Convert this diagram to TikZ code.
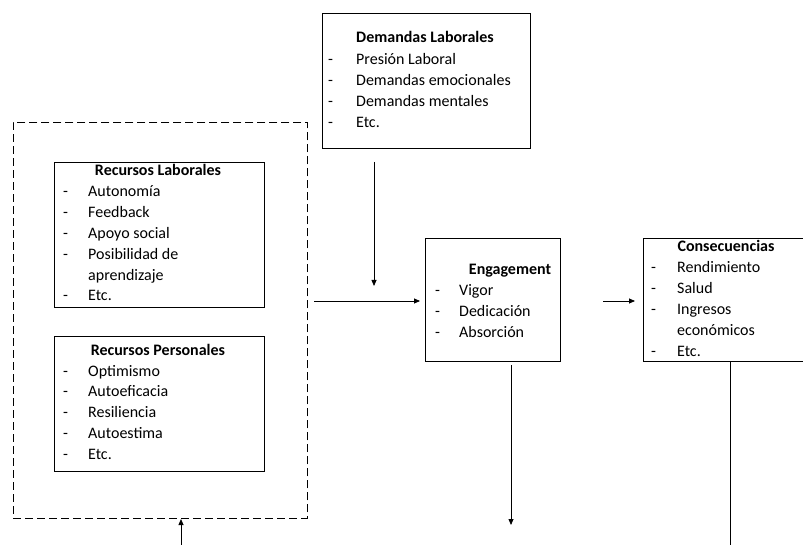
\documentclass[tikz,border=0pt]{standalone}
\usepackage{fontspec}
\setmainfont{Carlito}
\usetikzlibrary{arrows.meta}
\begin{document}
\begin{tikzpicture}[x=1pt,y=-1pt,
  box/.style={draw, line width=0.8pt, rectangle, inner sep=0, anchor=north west},
  dbox/.style={draw, line width=0.8pt, rectangle, inner sep=0, anchor=north west, dash pattern=on 8pt off 4pt},
  ttl/.style={anchor=base, inner sep=0, font=\fontsize{16}{20.8}\selectfont\bfseries},
  lst/.style={anchor=base west, inner sep=0, font=\fontsize{16}{20.8}\selectfont},
  arr/.style={line width=0.8pt, -{Triangle[length=6pt,width=5pt]}},
  ln/.style={line width=0.8pt}]
\useasboundingbox (0,0) rectangle (803,545);
% dashed container
\node[dbox, minimum width=294pt, minimum height=396pt] (res) at (13,122) {};
% Recursos Laborales
\node[box, minimum width=210pt, minimum height=145pt] (rl) at (54,162) {};
\node[ttl] (rlt) at (158,176) {Recursos Laborales};
\node[lst] (rll) at (63,197) {\begin{tabular}[t]{@{}p{25pt}@{}l@{}}
- & Autonomía\\ - & Feedback\\ - & Apoyo social\\ - & Posibilidad de\\ & aprendizaje\\ - & Etc.\end{tabular}};
% Recursos Personales
\node[box, minimum width=210pt, minimum height=135pt] (rp) at (54,336) {};
\node[ttl] (rpt) at (158,355) {Recursos Personales};
\node[lst] (rpl) at (63,376) {\begin{tabular}[t]{@{}p{25pt}@{}l@{}}
- & Optimismo\\ - & Autoeficacia\\ - & Resiliencia\\ - & Autoestima\\ - & Etc.\end{tabular}};
% Demandas Laborales
\node[box, minimum width=208pt, minimum height=135pt] (dl) at (322,13) {};
\node[ttl] (dlt) at (425,43) {Demandas Laborales};
\node[lst] (dll) at (328,65) {\begin{tabular}[t]{@{}p{28pt}@{}l@{}}
- & Presión Laboral\\ - & Demandas emocionales\\ - & Demandas mentales\\ - & Etc.\end{tabular}};
% Engagement
\node[box, minimum width=135pt, minimum height=123pt] (en) at (425,238) {};
\node[ttl] (ent) at (510,275) {Engagement};
\node[lst] (enl) at (435,296) {\begin{tabular}[t]{@{}p{24pt}@{}l@{}}
- & Vigor\\ - & Dedicación\\ - & Absorción\end{tabular}};
% Consecuencias
\node[box, minimum width=162pt, minimum height=123pt] (co) at (643,238) {};
\node[ttl] (cot) at (726,252) {Consecuencias};
\node[lst] (col) at (651,273) {\begin{tabular}[t]{@{}p{26pt}@{}l@{}}
- & Rendimiento\\ - & Salud\\ - & Ingresos\\ & económicos\\ - & Etc.\end{tabular}};
% connector ends
\coordinate (d1) at (374,162);
\coordinate (d2) at (374,286);
\coordinate (h1) at (314,301);
\coordinate (h2) at (420,301);
\coordinate (e1) at (603,301);
\coordinate (e2) at (635,301);
\coordinate (b1) at (511,365);
\coordinate (b2) at (511,525);
\coordinate (c2) at (730,545);
\coordinate (u1) at (181,545);
\coordinate (u2) at (181,519);
\draw[arr] (d1) -- (d2);
\draw[arr] (h1) -- (h2);
\draw[arr] (e1) -- (e2);
\draw[arr] (b1) -- (b2);
\draw[ln] (co.south -| c2) -- (c2);
\draw[arr] (u1) -- (u2);
\end{tikzpicture}
\end{document}
